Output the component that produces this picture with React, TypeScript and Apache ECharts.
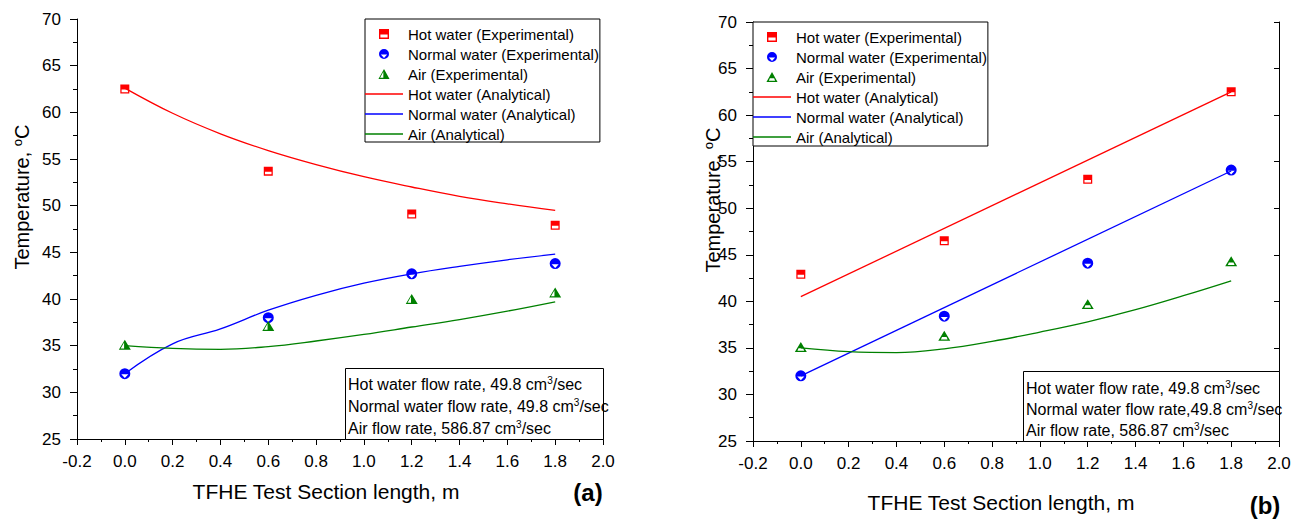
import React, { useEffect, useRef } from 'react';
import * as echarts from 'echarts';

const FONT = "'Liberation Sans', Arial, Helvetica, sans-serif";

// ---------- data ----------
const X_EXP = [0, 0.6, 1.2, 1.8];
const X_ANA = [0, 0.2, 0.4, 0.6, 0.8, 1.0, 1.2, 1.4, 1.6, 1.8];
const X_LIN = [0, 1.8];

// (a)
const hotExpA = [62.5, 53.7, 49.1, 47.9];
const normExpA = [32.0, 38.0, 42.7, 43.8];
const airExpA = [35.1, 37.1, 40.0, 40.7];
const hotAnaA = [62.6, 59.9, 57.7, 55.9, 54.4, 53.1, 52.0, 51.0, 50.2, 49.5];
const normAnaA = [32.0, 35.2, 36.8, 38.8, 40.4, 41.7, 42.7, 43.5, 44.2, 44.8];
const airAnaA = [35.0, 34.7, 34.6, 34.9, 35.5, 36.2, 37.0, 37.8, 38.7, 39.7];

// (b)
const hotExpB = [42.9, 46.5, 53.1, 62.5];
const normExpB = [32.0, 38.4, 44.1, 54.1];
const airExpB = [35.1, 36.3, 39.7, 44.3];
const hotAnaB = [40.5, 62.5];
const normAnaB = [32.0, 54.0];
const airAnaB = [35.0, 34.6, 34.5, 34.9, 35.7, 36.7, 37.8, 39.1, 40.6, 42.2];

const NAMES = [
  'Hot water (Experimental)',
  'Normal water (Experimental)',
  'Air (Experimental)',
  'Hot water (Analytical)',
  'Normal water (Analytical)',
  'Air (Analytical)',
];

const Y_MIN = 25;
const Y_MAX = 70;
const Y_STEP = 5;
const X_MIN = -0.2;
const X_MAX = 2.0;
const X_STEP = 0.2;

const RED = '#ff0000';
const BLUE = '#0000ff';
const GREEN = '#008000';

// half-filled marker shapes
const SQ = 'path://M0,0H10V10H0Z M1.4,5.6V8.6H8.6V5.6Z';
const CIR = 'path://M0,5A5,5,0,1,1,10,5A5,5,0,1,1,0,5Z M8.2,5.6H1.8L5,9Z';
const TRI_R = 'path://M5,0L10,9L0,9Z M4.4,2.4L1.5,7.9L4.4,7.9Z';
const TRI_T = 'path://M5,0L10,9L0,9Z M6.9,5.6L3.1,5.6L2.2,7.9L7.8,7.9Z';
const FLAT = 'path://M0,0H38V1.3H0Z';

const pairs = (xs: number[], ys: number[]) => xs.map((x, i) => [x, ys[i]]);

const fmtX = (v: number) => (Math.abs(v) < 1e-9 ? '0.0' : v.toFixed(1));

function xAxisDef(gridIndex: number) {
  return {
    type: 'value',
    gridIndex,
    min: X_MIN,
    max: X_MAX,
    interval: X_STEP,
    axisLine: { show: true, onZero: false, lineStyle: { color: '#000', width: 1 } },
    axisTick: { show: true, inside: false, length: 6, lineStyle: { color: '#000' } },
    minorTick: { show: true, splitNumber: 2, length: 3, lineStyle: { color: '#000' } },
    splitLine: { show: false },
    minorSplitLine: { show: false },
    axisLabel: { fontSize: 17, fontFamily: FONT, color: '#000', margin: 14, formatter: fmtX },
  };
}

function yAxisDef(gridIndex: number, margin: number) {
  return {
    type: 'value',
    gridIndex,
    position: 'left',
    min: Y_MIN,
    max: Y_MAX,
    interval: Y_STEP,
    axisLine: { show: true, onZero: false, lineStyle: { color: '#000', width: 1 } },
    axisTick: { show: true, inside: false, length: 7, lineStyle: { color: '#000' } },
    minorTick: { show: true, splitNumber: 2, length: 4, lineStyle: { color: '#000' } },
    splitLine: { show: false },
    minorSplitLine: { show: false },
    axisLabel: { fontSize: 17, fontFamily: FONT, color: '#000', margin },
  };
}

function scatter(name: string, xi: number, yi: number, data: number[][], color: string, symbol: string, size: any) {
  return {
    type: 'scatter',
    name,
    xAxisIndex: xi,
    yAxisIndex: yi,
    data,
    symbol,
    symbolSize: size,
    symbolKeepAspect: true,
    itemStyle: { color, opacity: 1 },
    z: 5,
  };
}

function line(name: string, xi: number, yi: number, data: number[][], color: string, smooth: any) {
  return {
    type: 'line',
    name,
    xAxisIndex: xi,
    yAxisIndex: yi,
    data,
    smooth,
    symbol: 'none',
    showSymbol: false,
    lineStyle: { color, width: 1.3 },
    itemStyle: { color },
    z: 3,
  };
}

function legendDef(left: number, top: number, padding: number[], triIcon: string) {
  return {
    orient: 'vertical',
    left,
    top,
    padding,
    itemWidth: 38,
    itemHeight: 10,
    itemGap: 4,
    selectedMode: false,
    backgroundColor: '#fff',
    borderColor: '#000',
    borderWidth: 1,
    textStyle: { fontSize: 15, fontFamily: FONT, color: '#000', lineHeight: 16 },
    data: [
      { name: NAMES[0], icon: SQ },
      { name: NAMES[1], icon: CIR },
      { name: NAMES[2], icon: triIcon },
      { name: NAMES[3], icon: FLAT, itemStyle: { color: RED, borderWidth: 0 } },
      { name: NAMES[4], icon: FLAT, itemStyle: { color: BLUE, borderWidth: 0 } },
      { name: NAMES[5], icon: FLAT, itemStyle: { color: GREEN, borderWidth: 0 } },
    ],
  };
}

const richBase = {
  n: { fontSize: 16, fontFamily: FONT, color: '#000', lineHeight: 18 },
  s: { fontSize: 10, fontFamily: FONT, color: '#000', lineHeight: 10, verticalAlign: 'top' },
};

function noteBox(x: number, y: number, w: number, h: number, lines: string[], ys: number[]) {
  const children: any[] = [
    {
      type: 'rect',
      shape: { x: x + 0.5, y: y + 0.5, width: w, height: h },
      style: { fill: '#fff', stroke: '#000', lineWidth: 1 },
      z: 50,
    },
  ];
  lines.forEach((t, i) => {
    children.push({
      type: 'text',
      x: x + 3,
      y: ys[i],
      z: 51,
      style: { text: t, rich: richBase, align: 'left', verticalAlign: 'middle' },
    });
  });
  return { type: 'group', children };
}

const richTitle = {
  t: { fontSize: 20, fontFamily: FONT, color: '#000', lineHeight: 22 },
  s: { fontSize: 13, fontFamily: FONT, color: '#000', lineHeight: 13, verticalAlign: 'top' },
};

export default function App() {
  const ref = useRef<HTMLDivElement>(null);

  useEffect(() => {
    if (!ref.current) return;
    const chart = echarts.init(ref.current, undefined, { renderer: 'svg' });

    const option: any = {
      animation: false,
      backgroundColor: '#fff',
      textStyle: { fontFamily: FONT },
      grid: [
        { left: 77, top: 19, width: 526, height: 420 },
        { left: 753, top: 22, width: 526, height: 419 },
      ],
      xAxis: [xAxisDef(0), xAxisDef(1)],
      yAxis: [
        yAxisDef(0, 16),
        yAxisDef(1, 16),
        {
          type: 'value',
          gridIndex: 1,
          position: 'right',
          min: Y_MIN,
          max: Y_MAX,
          interval: Y_STEP,
          axisLine: { show: true, onZero: false, lineStyle: { color: '#000', width: 1 } },
          axisTick: { show: true, inside: true, length: 5, lineStyle: { color: '#000' } },
          minorTick: { show: false },
          splitLine: { show: false },
          axisLabel: { show: false },
        },
      ],
      legend: [
        legendDef(365, 19, [7, 1, 0, 0], TRI_R),
        legendDef(753, 22, [7, 1, 1, 0], TRI_T),
      ],
      series: [
        line(NAMES[3], 0, 0, pairs(X_ANA, hotAnaA), RED, 0.4),
        line(NAMES[4], 0, 0, pairs(X_ANA, normAnaA), BLUE, 0.4),
        line(NAMES[5], 0, 0, pairs(X_ANA, airAnaA), GREEN, 0.4),
        scatter(NAMES[0], 0, 0, pairs(X_EXP, hotExpA), RED, SQ, 9),
        scatter(NAMES[1], 0, 0, pairs(X_EXP, normExpA), BLUE, CIR, 11),
        scatter(NAMES[2], 0, 0, pairs(X_EXP, airExpA), GREEN, TRI_R, [12, 11]),

        line(NAMES[3], 1, 1, pairs(X_LIN, hotAnaB), RED, false),
        line(NAMES[4], 1, 1, pairs(X_LIN, normAnaB), BLUE, false),
        line(NAMES[5], 1, 1, pairs(X_ANA, airAnaB), GREEN, 0.4),
        scatter(NAMES[0], 1, 1, pairs(X_EXP, hotExpB), RED, SQ, 9),
        scatter(NAMES[1], 1, 1, pairs(X_EXP, normExpB), BLUE, CIR, 11),
        scatter(NAMES[2], 1, 1, pairs(X_EXP, airExpB), GREEN, TRI_T, [12, 11]),
      ],
      graphic: [
        noteBox(345, 368, 258, 71, [
          '{n|Hot water flow rate, 49.8 cm}{s|3}{n|/sec}',
          '{n|Normal water flow rate, 49.8 cm}{s|3}{n|/sec}',
          '{n|Air flow rate, 586.87 cm}{s|3}{n|/sec}',
        ], [384, 406, 428]),
        noteBox(1023, 371, 256, 70, [
          '{n|Hot water flow rate, 49.8 cm}{s|3}{n|/sec}',
          '{n|Normal water flow rate,49.8 cm}{s|3}{n|/sec}',
          '{n|Air flow rate, 586.87 cm}{s|3}{n|/sec}',
        ], [388, 409, 430]),
        {
          type: 'text', x: 22, y: 197, rotation: Math.PI / 2, z: 60,
          style: { text: '{t|Temperature, }{s|o}{t|C}', rich: richTitle, align: 'center', verticalAlign: 'middle' },
        },
        {
          type: 'text', x: 713, y: 200, rotation: Math.PI / 2, z: 60,
          style: { text: '{t|Temperature, }{s|o}{t|C}', rich: richTitle, align: 'center', verticalAlign: 'middle' },
        },
        {
          type: 'text', x: 326, y: 491, z: 60,
          style: { text: 'TFHE Test Section length, m', fontSize: 21, fontFamily: FONT, fill: '#000', align: 'center', verticalAlign: 'middle' },
        },
        {
          type: 'text', x: 1001, y: 502, z: 60,
          style: { text: 'TFHE Test Section length, m', fontSize: 21, fontFamily: FONT, fill: '#000', align: 'center', verticalAlign: 'middle' },
        },
        {
          type: 'text', x: 588, y: 492, z: 60,
          style: { text: '(a)', fontSize: 24, fontWeight: 'bold', fontFamily: FONT, fill: '#000', align: 'center', verticalAlign: 'middle' },
        },
        {
          type: 'text', x: 1265, y: 505, z: 60,
          style: { text: '(b)', fontSize: 24, fontWeight: 'bold', fontFamily: FONT, fill: '#000', align: 'center', verticalAlign: 'middle' },
        },
      ],
    };

    chart.setOption(option);
    return () => chart.dispose();
  }, []);

  return (
    <div
      ref={ref}
      style={{ position: 'fixed', left: 0, top: 0, width: 1303, height: 519, background: '#fff' }}
    />
  );
}
